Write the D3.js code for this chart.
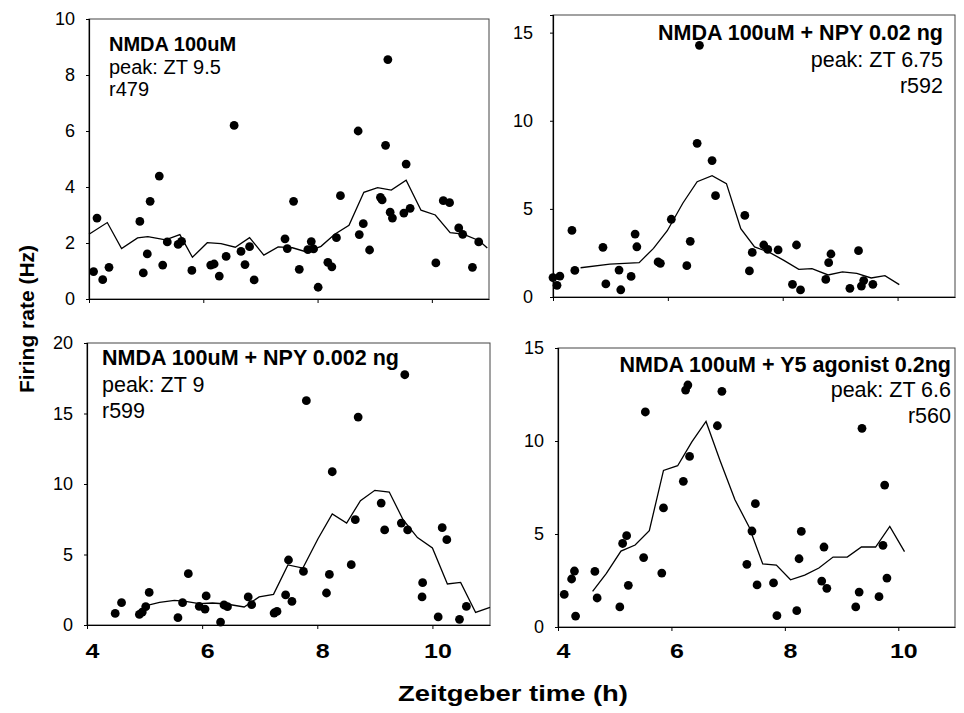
<!DOCTYPE html>
<html>
<head>
<meta charset="utf-8">
<script src="https://cdn.jsdelivr.net/npm/d3@7"></script>
<style>
  body { margin: 0; background: #fff; }
  svg { display: block; font-family: "Liberation Sans", Arial, sans-serif; }
</style>
</head>
<body>
<div id="vis"></div>
<script>
// x ticks shared by all four panels (Zeitgeber time, h)
const xTicks = [4, 6, 8, 10]

// panel A: NMDA 100uM
const dotsA_x = [4.08,4.14,4.24,4.35,4.89,4.95,5.02,5.07,5.23,5.29,5.37,5.56,5.62,5.80,6.13,6.19,6.28,6.40,6.54,6.66,6.73,6.81,6.89,7.43,7.47,7.58,7.68,7.83,7.89,7.93,8.01,8.18,8.25,8.33,8.40,8.71,8.73,8.80,8.91,9.10,9.13,9.19,9.23,9.27,9.31,9.51,9.55,9.62,10.07,10.20,10.31,10.47,10.54,10.71,10.82]
const dotsA_y = [0.98,2.89,0.69,1.13,2.77,0.93,1.61,3.49,4.39,1.21,2.04,1.95,2.06,1.02,1.21,1.25,0.82,1.52,6.20,1.70,1.23,1.87,0.68,2.15,1.80,3.49,1.06,1.76,2.05,1.79,0.42,1.31,1.15,2.19,3.69,6.00,2.30,2.69,1.75,3.63,3.54,5.49,8.55,3.10,2.89,3.07,4.82,3.24,1.29,3.51,3.44,2.54,2.31,1.13,2.04]
const lineA_x = [4.0,4.32,4.57,4.85,5.03,5.34,5.59,5.81,6.07,6.31,6.56,6.81,7.06,7.31,7.56,7.81,8.06,8.30,8.55,8.81,9.05,9.29,9.55,9.81,10.06,10.32,10.55,10.83,10.97]
const lineA_y = [2.31,2.73,1.80,2.18,2.23,2.11,2.30,1.49,2.01,1.98,1.85,2.19,1.57,1.86,1.83,1.68,1.88,2.31,2.63,3.81,3.98,3.89,4.24,3.17,3.00,2.37,2.32,2.08,1.82]
const labelsA = ['NMDA 100uM', 'peak: ZT 9.5', 'r479']
const yTicksA = [0, 2, 4, 6, 8, 10]

// panel B: NMDA 100uM + NPY 0.02 ng
const dotsB_x = [4.0,4.07,4.12,4.33,4.38,4.87,4.92,5.15,5.18,5.36,5.43,5.46,5.83,5.87,6.06,6.33,6.39,6.51,6.55,6.77,6.83,7.34,7.42,7.47,7.67,7.74,7.92,8.17,8.24,8.31,8.75,8.80,8.84,9.17,9.32,9.37,9.41,9.57]
const dotsB_y = [1.10,0.66,1.19,3.78,1.51,2.82,0.74,1.53,0.41,1.17,3.57,2.85,1.99,1.91,4.41,1.78,3.16,8.72,14.28,7.74,5.75,4.63,1.48,2.53,2.95,2.70,2.67,0.72,2.95,0.40,1.00,1.95,2.44,0.49,2.63,0.62,0.93,0.72]
const lineB_x = [4.48,4.99,5.50,5.75,5.99,6.26,6.51,6.77,7.02,7.27,7.51,7.77,8.02,8.28,8.51,8.79,9.04,9.29,9.54,9.78,10.03]
const lineB_y = [1.66,1.87,1.95,2.76,3.76,5.32,6.54,6.88,6.43,3.88,2.84,2.53,2.08,1.57,1.61,1.25,1.42,1.34,1.08,1.21,0.70]
const labelsB = ['NMDA 100uM + NPY 0.02 ng', 'peak: ZT 6.75', 'r592']
const yTicksB = [0, 5, 10, 15]

// panel C: NMDA 100uM + NPY 0.002 ng
const dotsC_x = [4.49,4.60,4.91,4.96,5.02,5.08,5.58,5.66,5.76,5.95,6.05,6.07,6.32,6.38,6.44,6.80,6.86,7.25,7.30,7.45,7.50,7.56,7.76,7.81,8.16,8.21,8.26,8.59,8.66,8.71,9.11,9.17,9.46,9.52,9.57,9.82,9.83,10.10,10.17,10.25,10.47,10.59]
const dotsC_y = [0.82,1.58,0.75,0.92,1.30,2.31,0.52,1.58,3.64,1.32,1.13,2.06,0.21,1.42,1.30,1.99,1.44,0.85,0.96,2.13,4.61,1.67,3.80,15.91,2.27,3.59,10.87,4.28,7.47,14.75,8.65,6.74,7.23,17.75,6.74,1.99,3.00,0.57,6.90,6.05,0.40,1.32]
const lineC_x = [5.03,5.26,5.52,5.71,5.95,6.18,6.42,6.73,6.99,7.24,7.49,7.75,8.01,8.26,8.51,8.75,9.00,9.25,9.49,9.74,10.0,10.26,10.49,10.75,11.0]
const lineC_y = [1.37,1.60,1.74,1.67,1.51,1.56,1.49,1.28,1.99,2.17,4.26,4.04,6.10,7.87,7.23,8.82,9.55,9.43,7.47,6.20,5.46,2.91,3.02,0.89,1.25]
const labelsC = ['NMDA 100uM + NPY 0.002 ng', 'peak: ZT 9', 'r599']
const yTicksC = [0, 5, 10, 15, 20]

// panel D: NMDA 100uM + Y5 agonist 0.2ng
const dotsD_x = [4.11,4.24,4.29,4.31,4.65,4.69,5.09,5.14,5.21,5.24,5.51,5.54,5.83,5.86,6.21,6.25,6.29,6.32,6.81,6.89,7.33,7.42,7.48,7.51,7.80,7.86,8.21,8.25,8.29,8.65,8.69,8.74,9.25,9.31,9.36,9.66,9.73,9.76,9.80]
const dotsD_y = [1.75,2.58,3.01,0.59,2.99,1.56,1.08,4.49,4.91,2.24,3.73,11.56,2.90,6.40,7.83,12.74,13.01,9.17,10.82,12.67,3.37,5.16,6.63,2.26,2.37,0.61,0.88,3.67,5.14,2.47,4.30,2.08,1.08,1.88,10.68,1.63,4.39,7.63,2.63]
const lineD_x = [4.61,4.85,5.11,5.36,5.61,5.86,6.11,6.36,6.61,6.86,7.12,7.37,7.61,7.85,8.10,8.35,8.60,8.85,9.10,9.35,9.60,9.85,10.11]
const lineD_y = [1.91,2.87,4.08,4.41,5.18,8.42,8.67,9.95,11.05,8.92,6.84,5.38,3.39,3.33,2.54,2.79,3.17,3.76,3.76,4.30,4.30,5.41,4.05]
const labelsD = ['NMDA 100uM + Y5 agonist 0.2ng', 'peak: ZT 6.6', 'r560']
const yTicksD = [0, 5, 10, 15]

const font = '"Liberation Sans", Arial, sans-serif'

// layout of the four boxes
const panels = [
    {left: 89, right: 489, top: 19, bottom: 299, yMax: 10, yTicks: yTicksA, gap: 14,
     dx: dotsA_x, dy: dotsA_y, lx: lineA_x, ly: lineA_y, labels: labelsA,
     anchor: 'start', tx: 109, ty: [51, 73.5, 96], size: 20, xLabels: false},
    {left: 553, right: 955, top: 15, bottom: 297, yMax: 16, yTicks: yTicksB, gap: 20,
     dx: dotsB_x, dy: dotsB_y, lx: lineB_x, ly: lineB_y, labels: labelsB,
     anchor: 'end', tx: 943, ty: [39.5, 66.5, 92.5], size: 21.5, xLabels: false},
    {left: 87, right: 490, top: 343, bottom: 625, yMax: 20, yTicks: yTicksC, gap: 14,
     dx: dotsC_x, dy: dotsC_y, lx: lineC_x, ly: lineC_y, labels: labelsC,
     anchor: 'start', tx: 102, ty: [365, 391.5, 418], size: 21.5, xLabels: true},
    {left: 558, right: 955, top: 348, bottom: 627, yMax: 15, yTicks: yTicksD, gap: 14,
     dx: dotsD_x, dy: dotsD_y, lx: lineD_x, ly: lineD_y, labels: labelsD,
     anchor: 'end', tx: 951, ty: [371.5, 397, 422.5], size: 21.5, xLabels: true}
]

let svg = d3.select('#vis')
    .append('svg')
    .attr('width', 964)
    .attr('height', 713)

svg.append('rect')
    .attr('width', 964)
    .attr('height', 713)
    .attr('fill', '#fff')

function drawPanel(p){
    let x = d3.scaleLinear([4, 11], [p.left, p.right])
    let y = d3.scaleLinear([0, p.yMax], [p.bottom, p.top])
    let g = svg.append('g')

    // box round the plot
    g.append('rect')
        .attr('x', p.left)
        .attr('y', p.top)
        .attr('width', p.right - p.left)
        .attr('height', p.bottom - p.top)
        .attr('fill', 'none')
        .attr('stroke', '#444')
        .attr('stroke-width', 1)

    let yAxis = d3.axisLeft(y)
        .tickValues(p.yTicks)
        .tickSize(3)
        .tickPadding(p.gap - 3)
        .tickFormat(d3.format('d'))

    g.append('g')
        .attr('transform', `translate(${p.left},0)`)
        .call(yAxis)
        .call(a => a.select('.domain').attr('stroke', '#000').attr('stroke-width', 1.2))
        .call(a => a.selectAll('.tick line').attr('stroke', '#000'))
        .call(a => a.selectAll('text')
            .attr('font-family', font)
            .attr('font-size', '18px')
            .attr('fill', '#000'))

    let xAxis = d3.axisBottom(x)
        .tickValues(xTicks)
        .tickSize(4)
        .tickSizeOuter(0)
        .tickFormat(p.xLabels ? d3.format('d') : '')

    g.append('g')
        .attr('transform', `translate(0,${p.bottom})`)
        .call(xAxis)
        .call(a => a.select('.domain').attr('stroke', '#000').attr('stroke-width', 1.2))
        .call(a => a.selectAll('.tick line').attr('stroke', '#000'))
        .call(a => a.selectAll('text')
            .attr('font-family', font)
            .attr('font-size', '20px')
            .attr('font-weight', 'bold')
            .attr('fill', '#000')
            .attr('y', 644 - p.bottom)
            .attr('dy', '0.72em')
            .attr('transform', 'translate(5,0) scale(1.25,1)'))

    // mean line
    let pts = p.lx.map((v, i) => [v, p.ly[i]])
    g.append('path')
        .datum(pts)
        .attr('fill', 'none')
        .attr('stroke', '#000')
        .attr('stroke-width', 1.3)
        .attr('d', d3.line().x(d => x(d[0])).y(d => y(d[1])))

    // single unit points
    let dots = p.dx.map((v, i) => [v, p.dy[i]])
    g.selectAll('.dot')
        .data(dots)
        .enter()
        .append('circle')
            .attr('class', 'dot')
            .attr('cx', d => x(d[0]))
            .attr('cy', d => y(d[1]))
            .attr('r', 4.4)
            .attr('fill', '#000')

    // condition text
    g.selectAll('.note')
        .data(p.labels)
        .enter()
        .append('text')
            .attr('class', 'note')
            .attr('x', p.tx)
            .attr('y', (d, i) => p.ty[i])
            .attr('text-anchor', p.anchor)
            .attr('font-family', font)
            .attr('font-size', p.size + 'px')
            .attr('font-weight', (d, i) => i === 0 ? 'bold' : 'normal')
            .attr('fill', '#000')
            .text(d => d)
}

panels.forEach(drawPanel)

// axis titles
svg.append('text')
    .attr('transform', 'translate(34,319) rotate(-90)')
    .attr('text-anchor', 'middle')
    .attr('font-family', font)
    .attr('font-size', '21px')
    .attr('font-weight', 'bold')
    .text('Firing rate (Hz)')

svg.append('text')
    .attr('x', 398)
    .attr('y', 701)
    .attr('font-family', font)
    .attr('font-size', '22px')
    .attr('font-weight', 'bold')
    .attr('textLength', 230)
    .attr('lengthAdjust', 'spacingAndGlyphs')
    .text('Zeitgeber time (h)')
</script>
</body>
</html>
